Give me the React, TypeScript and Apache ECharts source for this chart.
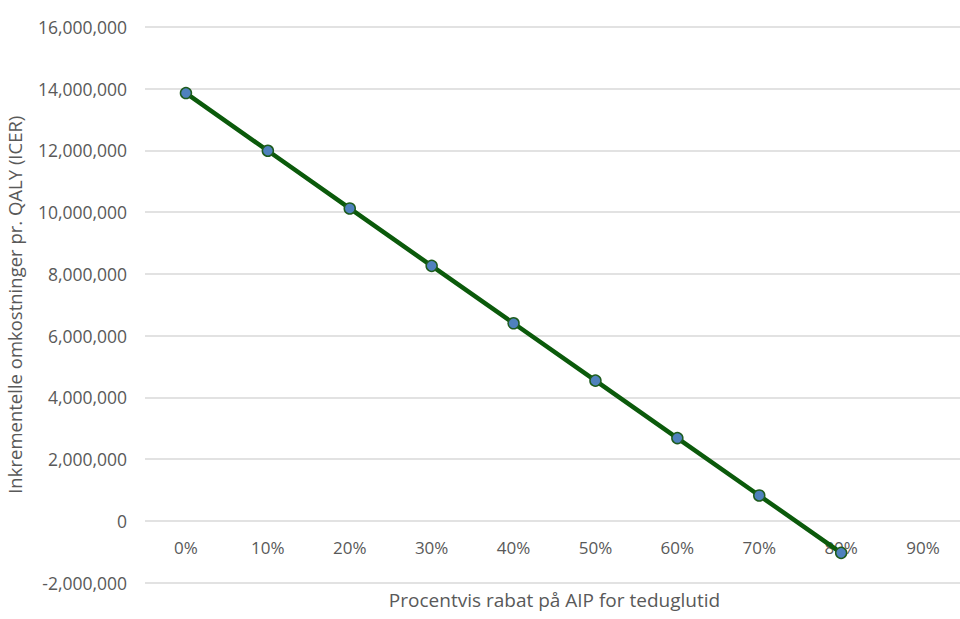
import React, { useEffect, useRef } from "react";
import * as echarts from "echarts";

const categories = ["0%", "10%", "20%", "30%", "40%", "50%", "60%", "70%", "80%", "90%"];
const icerValues: (number | null)[] = [13860000, 11990000, 10120000, 8260000, 6400000, 4540000, 2680000, 820000, -1040000, null];
const yMin = -2000000;
const yMax = 16000000;
const yStep = 2000000;
const xTitle = "Procentvis rabat på AIP for teduglutid";
const yTitle = "Inkrementelle omkostninger pr. QALY (ICER)";

export default function App() {
  const ref = useRef<HTMLDivElement>(null);
  useEffect(() => {
    if (!ref.current) return;
    const chart = echarts.init(ref.current, null, { renderer: "svg" });
    const font = "'Open Sans', 'Noto Sans', sans-serif";
    chart.setOption({
      animation: false,
      backgroundColor: "#ffffff",
      grid: { left: 145, right: 0, top: 27, bottom: 36.5, containLabel: false, outerBoundsMode: "none" },
      xAxis: {
        type: "category",
        data: categories,
        boundaryGap: true,
        axisLine: { show: false, onZero: false },
        axisTick: { show: false },
        axisLabel: { color: "#595959", fontSize: 17, fontFamily: font, margin: -43.5 },
        name: xTitle,
        nameLocation: "middle",
        nameGap: 8,
        nameMoveOverlap: false,
        nameTextStyle: { color: "#595959", fontSize: 19, fontFamily: font, verticalAlign: "top" },
      },
      yAxis: {
        type: "value",
        min: yMin,
        max: yMax,
        interval: yStep,
        axisLine: { show: false },
        axisTick: { show: false },
        splitLine: { lineStyle: { color: "#d9d9d9", width: 1.5 } },
        axisLabel: {
          color: "#595959",
          fontSize: 17.5,
          fontFamily: font,
          margin: 18,
          formatter: (v: number) => v.toLocaleString("en-US"),
        },
        name: yTitle,
        nameLocation: "middle",
        nameGap: 115,
        nameRotate: 90,
        nameMoveOverlap: false,
        nameTextStyle: { color: "#595959", fontSize: 18.5, fontFamily: font, padding: [0, 0, 6, 0] },
      },
      series: [
        {
          type: "line",
          data: icerValues,
          symbol: "circle",
          symbolSize: 11,
          lineStyle: { color: "#0b5a0b", width: 4.5 },
          itemStyle: { color: "#4f81bd", borderColor: "#1e5c1e", borderWidth: 1.5 },
          z: 3,
        },
      ],
    });
    return () => chart.dispose();
  }, []);
  return (
    <div style={{ position: "fixed", left: 0, top: 0, width: 960, height: 619, overflow: "hidden", background: "#fff" }}>
      <div ref={ref} style={{ width: 964, height: 619 }} />
    </div>
  );
}
